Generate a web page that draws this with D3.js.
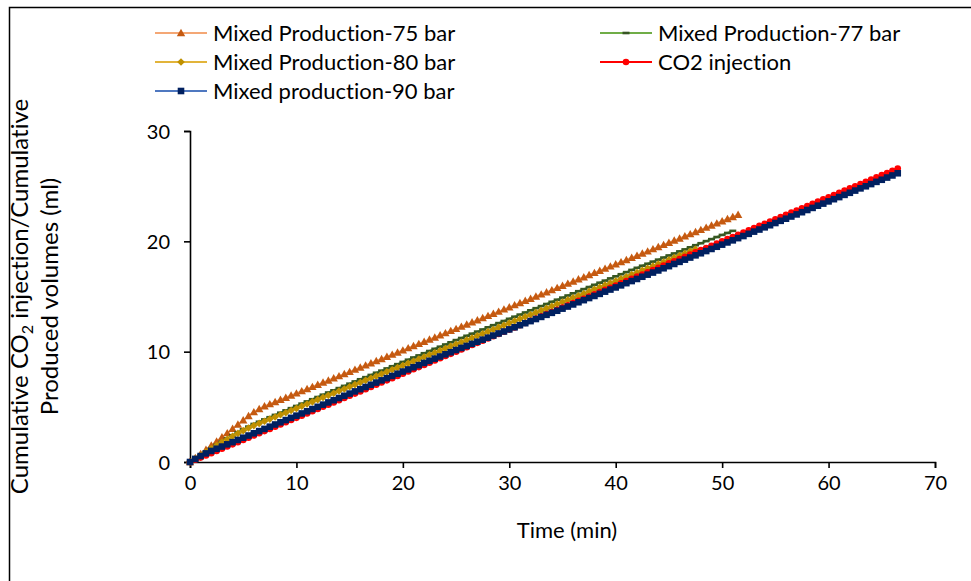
<!DOCTYPE html>
<html>
<head>
<meta charset="utf-8">
<script src="https://cdn.jsdelivr.net/npm/d3@7/dist/d3.min.js"></script>
<style>
  html, body { margin: 0; padding: 0; background: #fff; }
  svg { display: block; }
  text { font-family: Lato, "Open Sans", sans-serif; fill: #000; font-variant-ligatures: none; font-feature-settings: "liga" 0; }
</style>
</head>
<body>
<svg id="chart" width="971" height="581"></svg>
<script>
// Sampling times (min), one reading every 30 s
const timeMin = [
  0,0.5,1,1.5,2,2.5,3,3.5,4,4.5,5,5.5,6,6.5,7,7.5,8,8.5,9,9.5,
  10,10.5,11,11.5,12,12.5,13,13.5,14,14.5,15,15.5,16,16.5,17,17.5,18,18.5,19,19.5,
  20,20.5,21,21.5,22,22.5,23,23.5,24,24.5,25,25.5,26,26.5,27,27.5,28,28.5,29,29.5,
  30,30.5,31,31.5,32,32.5,33,33.5,34,34.5,35,35.5,36,36.5,37,37.5,38,38.5,39,39.5,
  40,40.5,41,41.5,42,42.5,43,43.5,44,44.5,45,45.5,46,46.5,47,47.5,48,48.5,49,49.5,
  50,50.5,51,51.5,52,52.5,53,53.5,54,54.5,55,55.5,56,56.5,57,57.5,58,58.5,59,59.5,
  60,60.5,61,61.5,62,62.5,63,63.5,64,64.5,65,65.5,66,66.5
];

// Cumulative volumes (ml)
const mixed75 = [
  0,0.36,0.74,1.11,1.49,1.86,2.24,2.62,3.01,3.4,3.79,4.17,4.52,4.81,5.05,5.25,5.44,5.64,5.83,6.03,
  6.22,6.42,6.61,6.81,7.0,7.2,7.39,7.59,7.78,7.98,8.17,8.37,8.56,8.76,8.95,9.15,9.34,9.54,9.73,9.93,
  10.12,10.32,10.51,10.71,10.9,11.1,11.29,11.49,11.68,11.88,12.07,12.27,12.46,12.66,12.85,13.05,13.24,13.44,13.63,13.83,
  14.02,14.22,14.41,14.61,14.8,15.0,15.19,15.39,15.58,15.78,15.97,16.17,16.36,16.56,16.75,16.95,17.14,17.34,17.53,17.73,
  17.92,18.12,18.31,18.51,18.7,18.9,19.09,19.29,19.48,19.68,19.87,20.07,20.26,20.46,20.65,20.85,21.04,21.24,21.43,21.63,
  21.82,22.02,22.21,22.41
];
const mixed77 = [
  0,0.3,0.62,0.93,1.25,1.55,1.85,2.14,2.43,2.7,2.96,3.21,3.45,3.65,3.86,4.06,4.27,4.47,4.68,4.88,
  5.08,5.29,5.49,5.69,5.89,6.1,6.3,6.5,6.7,6.9,7.1,7.3,7.5,7.69,7.89,8.09,8.28,8.48,8.68,8.87,
  9.07,9.27,9.47,9.66,9.86,10.06,10.26,10.45,10.65,10.85,11.05,11.24,11.44,11.63,11.82,12.01,12.21,12.4,12.59,12.78,
  12.98,13.17,13.36,13.55,13.75,13.94,14.13,14.32,14.52,14.71,14.9,15.09,15.29,15.48,15.67,15.86,16.06,16.25,16.44,16.64,
  16.83,17.02,17.21,17.41,17.6,17.79,17.97,18.16,18.34,18.53,18.72,18.9,19.09,19.27,19.46,19.65,19.83,20.02,20.2,20.39,
  20.58,20.76,20.95
];
const mixed80 = [
  0,0.29,0.6,0.9,1.2,1.5,1.78,2.06,2.33,2.59,2.84,3.08,3.3,3.5,3.69,3.89,4.08,4.28,4.47,4.67,
  4.86,5.06,5.26,5.45,5.65,5.84,6.04,6.23,6.43,6.62,6.82,7.01,7.2,7.4,7.59,7.78,7.98,8.17,8.36,8.55,
  8.75,8.94,9.13,9.32,9.52,9.71,9.9,10.09,10.29,10.48,10.67,10.86,11.05,11.24,11.44,11.63,11.82,12.01,12.2,12.39,
  12.59,12.78,12.97,13.16,13.35,13.54,13.73,13.92,14.12,14.31,14.5,14.69,14.88,15.07,15.26,15.46,15.65,15.84,16.03,16.22,
  16.41,16.6,16.79,16.99,17.18,17.37,17.56,17.75,17.94,18.13,18.32,18.52,18.71,18.9,19.09,19.28
];
const co2Injection = [
  0,0.2,0.4,0.6,0.8,1.0,1.2,1.4,1.6,1.8,2.0,2.2,2.4,2.6,2.8,3.0,3.2,3.4,3.6,3.8,
  4.0,4.2,4.4,4.6,4.8,5.0,5.2,5.4,5.6,5.8,6.0,6.2,6.4,6.6,6.8,7.0,7.2,7.4,7.6,7.8,
  8.0,8.2,8.4,8.6,8.8,9.0,9.2,9.4,9.6,9.8,10.0,10.2,10.4,10.6,10.8,11.0,11.2,11.4,11.6,11.8,
  12.0,12.2,12.4,12.6,12.8,13.0,13.2,13.4,13.6,13.8,14.0,14.2,14.4,14.6,14.8,15.0,15.2,15.4,15.6,15.8,
  16.0,16.2,16.4,16.6,16.8,17.0,17.2,17.4,17.6,17.8,18.0,18.2,18.4,18.6,18.8,19.0,19.2,19.4,19.6,19.8,
  20.0,20.2,20.4,20.6,20.8,21.0,21.2,21.4,21.6,21.8,22.0,22.2,22.4,22.6,22.8,23.0,23.2,23.4,23.6,23.8,
  24.0,24.2,24.4,24.6,24.8,25.0,25.2,25.4,25.6,25.8,26.0,26.2,26.4,26.6
];
const mixed90 = [
  0,0.28,0.54,0.78,1.0,1.2,1.4,1.6,1.8,2.0,2.2,2.4,2.6,2.8,3.0,3.2,3.4,3.6,3.8,4.0,
  4.2,4.4,4.6,4.8,5.0,5.2,5.4,5.6,5.8,6.0,6.2,6.4,6.6,6.8,7.0,7.2,7.4,7.6,7.8,8.0,
  8.2,8.39,8.59,8.78,8.98,9.17,9.37,9.56,9.76,9.95,10.15,10.34,10.52,10.71,10.9,11.09,11.27,11.46,11.65,11.83,
  12.02,12.21,12.4,12.58,12.77,12.96,13.15,13.34,13.52,13.71,13.9,14.09,14.28,14.48,14.67,14.86,15.05,15.24,15.44,15.63,
  15.82,16.01,16.21,16.4,16.59,16.79,16.98,17.17,17.36,17.56,17.75,17.95,18.14,18.34,18.53,18.73,18.92,19.12,19.31,19.51,
  19.7,19.9,20.09,20.29,20.48,20.68,20.88,21.07,21.27,21.46,21.66,21.86,22.05,22.25,22.44,22.64,22.84,23.03,23.23,23.42,
  23.62,23.82,24.01,24.21,24.4,24.6,24.8,24.99,25.19,25.39,25.58,25.78,25.97,26.17
];

const seriesNames = [
  "Mixed Production-75 bar",
  "Mixed Production-77 bar",
  "Mixed Production-80 bar",
  "CO2 injection",
  "Mixed production-90 bar"
];
const xTicks = [0, 10, 20, 30, 40, 50, 60, 70];
const yTicks = [0, 10, 20, 30];

// Drawing styles per series
const styles = [
  { values: mixed75,      line: "#F4A775", mark: "#C55A11", shape: "triangle" },
  { values: mixed77,      line: "#70AD47", mark: "#375623", shape: "dash" },
  { values: mixed80,      line: "#E2B43A", mark: "#BF9000", shape: "diamond" },
  { values: co2Injection, line: "#FF0000", mark: "#FF0000", shape: "circle" },
  { values: mixed90,      line: "#4F78C0", mark: "#002060", shape: "square" }
];

const svg = d3.select("#chart");
const W = 971, H = 581;

svg.append("rect").attr("width", W).attr("height", H).attr("fill", "#fff");
// outer frame
svg.append("rect")
  .attr("x", 9.5).attr("y", 7.5)
  .attr("width", 980).attr("height", 600)
  .attr("fill", "none").attr("stroke", "#000").attr("stroke-width", 1.5);

const plot = { left: 190, right: 935, top: 131, bottom: 462 };
const x = d3.scaleLinear().domain([0, 70]).range([plot.left, plot.right]);
const y = d3.scaleLinear().domain([0, 30]).range([plot.bottom, plot.top]);

// Marker shapes centred at the origin
function markerPath(shape) {
  switch (shape) {
    case "triangle": return "M0,-4.2L4.2,3.2L-4.2,3.2Z";
    case "diamond":  return "M0,-3.8L3.8,0L0,3.8L-3.8,0Z";
    case "square":   return "M-3.3,-3.3H3.3V3.3H-3.3Z";
    case "circle":   return d3.symbol(d3.symbolCircle, 34)();
    case "dash":     return "M-3.5,-1.3H3.5V1.3H-3.5Z";
  }
}

// Axes
const xAxis = d3.axisBottom(x).tickValues(xTicks).tickSize(6).tickPadding(8);
const yAxis = d3.axisLeft(y).tickValues(yTicks).tickSize(6).tickPadding(14);

const gx = svg.append("g").attr("transform", `translate(0,${plot.bottom})`).call(xAxis);
const gy = svg.append("g").attr("transform", `translate(${plot.left},0)`).call(yAxis);
[gx, gy].forEach(g => {
  g.select(".domain").attr("stroke", "#000").attr("stroke-width", 1.6);
  g.selectAll(".tick line").attr("stroke", "#000").attr("stroke-width", 1.6);
  g.selectAll(".tick text").attr("font-size", 20).attr("font-family", "Lato").attr("fill", "#000");
});
gy.selectAll(".tick text").attr("dy", "0.35em");

// Series: line first, then markers on every reading
const lineGen = d3.line()
  .x((d, i) => x(timeMin[i]))
  .y(d => y(d));

styles.forEach(s => {
  const g = svg.append("g");
  g.append("path")
    .datum(s.values)
    .attr("fill", "none")
    .attr("stroke", s.line)
    .attr("stroke-width", 2)
    .attr("d", lineGen);
  g.selectAll("path.mk")
    .data(s.values)
    .join("path")
    .attr("class", "mk")
    .attr("d", markerPath(s.shape))
    .attr("fill", s.mark)
    .attr("transform", (d, i) => `translate(${x(timeMin[i])},${y(d)})`);
});

// Legend (two columns, filled row by row)
const legendPos = [
  { lx: 155, ty: 33 }, { lx: 600, ty: 33 },
  { lx: 155, ty: 62 }, { lx: 600, ty: 62 },
  { lx: 155, ty: 91 }
];
seriesNames.forEach((name, i) => {
  const p = legendPos[i], s = styles[i];
  const g = svg.append("g").attr("transform", `translate(${p.lx},${p.ty})`);
  g.append("line").attr("x1", 0).attr("x2", 52).attr("y1", 0).attr("y2", 0)
    .attr("stroke", s.line).attr("stroke-width", 2);
  g.append("path").attr("d", markerPath(s.shape)).attr("fill", s.mark)
    .attr("transform", "translate(26,0)");
  g.append("text").attr("x", 58).attr("y", 0).attr("dy", "0.35em")
    .attr("font-size", 22).text(name);
});

// Axis titles
svg.append("text")
  .attr("x", 567).attr("y", 538)
  .attr("text-anchor", "middle").attr("font-size", 22)
  .text("Time (min)");

const yTitle = svg.append("text")
  .attr("transform", `translate(0,${(plot.top + plot.bottom) / 2}) rotate(-90)`)
  .attr("text-anchor", "middle").attr("font-size", 24);
const l1 = yTitle.append("tspan").attr("x", 0).attr("y", 28);
l1.append("tspan").text("Cumulative CO");
l1.append("tspan").attr("font-size", 16).attr("dy", 5).text("2");
l1.append("tspan").attr("dy", -5).text(" injection/Cumulative");
yTitle.append("tspan").attr("x", 0).attr("y", 58).text("Produced volumes (ml)");
</script>
</body>
</html>
